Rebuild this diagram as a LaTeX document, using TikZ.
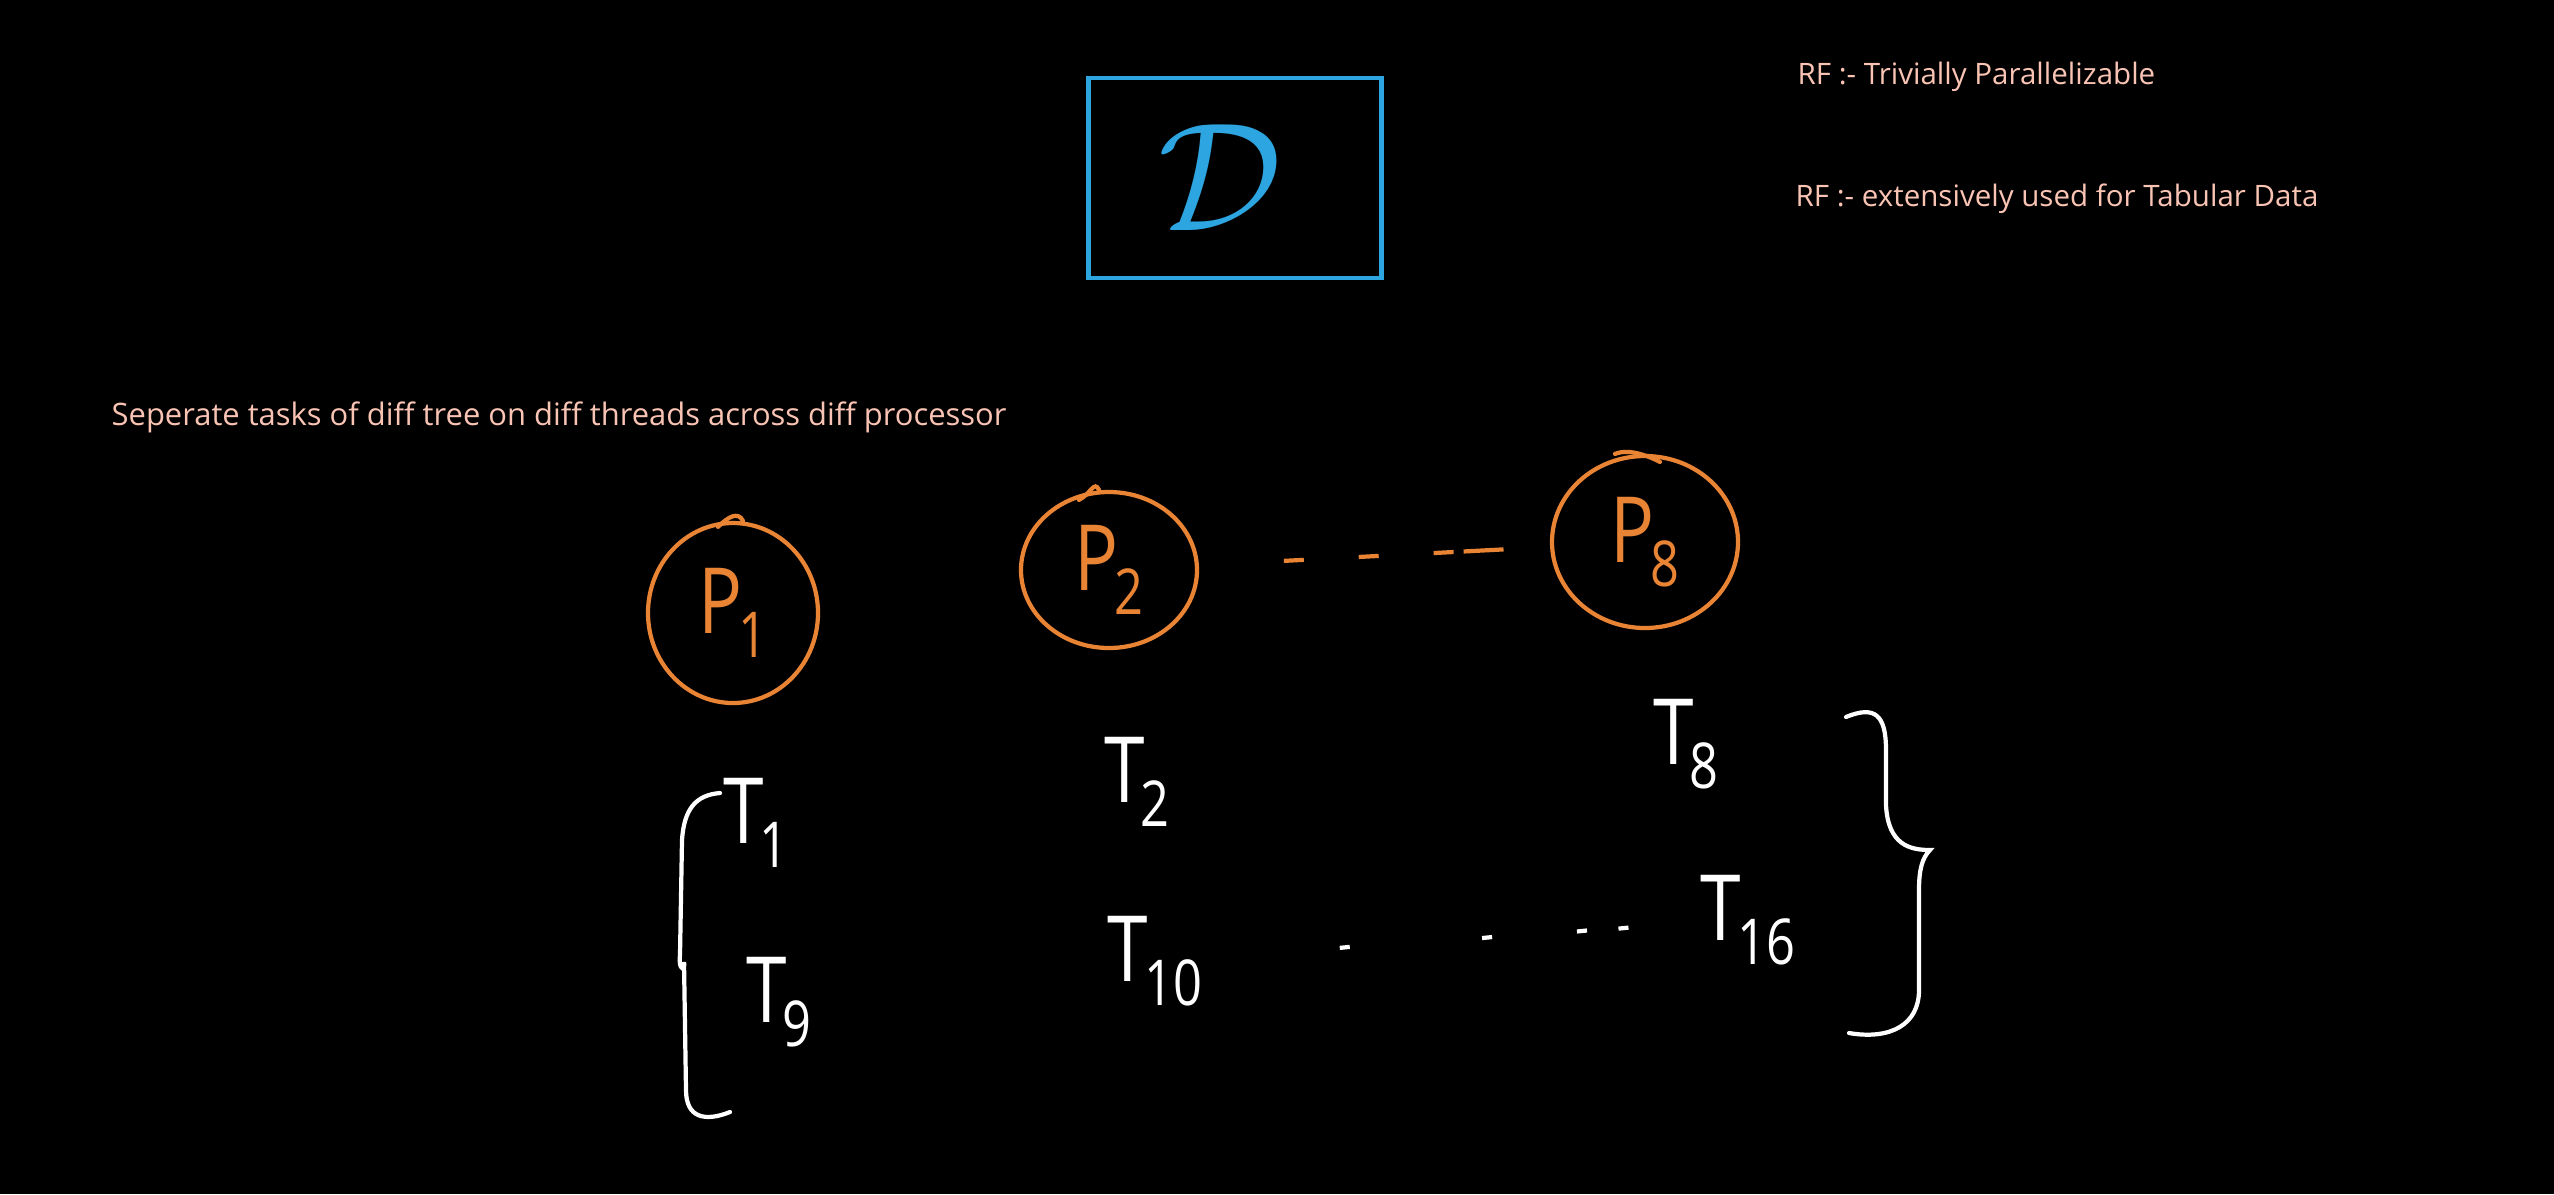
\documentclass[tikz,border=0pt]{standalone}
\usepackage{fix-cm}
\usepackage{fontspec}
\setmainfont{Open Sans}
\usetikzlibrary{positioning, shapes.geometric, calc}
\definecolor{penblue}{RGB}{45,165,225}
\definecolor{penorange}{RGB}{232,132,52}
\definecolor{penpink}{RGB}{250,196,180}
\newcommand{\subl}[2]{\scalebox{0.8}[1]{#1\kern-1.5pt\raisebox{-0.5ex}{\fontsize{18}{18}\selectfont #2}}}

\begin{document}
\begin{tikzpicture}[
    proc/.style={draw=penorange, ellipse, line width=1.2pt, inner sep=0pt, text=penorange, font=\fontsize{26}{30}\selectfont},
    task/.style={text=white, font=\fontsize{26}{30}\selectfont},
    note/.style={text=penpink, anchor=west, inner sep=0pt, font=\fontsize{8.4}{10}\selectfont},
    dbox/.style={draw=penblue, line width=1.2pt, minimum width=2.93cm, minimum height=2.0cm, text=penblue, font=\fontsize{44}{50}\selectfont},
    gap/.style={penorange, line width=1.2pt, dash pattern=on 0.2cm off 0.55cm on 0.2cm off 0.55cm on 0.2cm off 0.1cm on 0.4cm},
    tick/.style={white, line width=1.2pt},
    brc/.style={white, line width=1.2pt, line cap=round},
    hook/.style={penorange, line width=1.2pt, line cap=round},
]
% ---- Pozadina ----
\fill[black] (0,0) rectangle (25.54,-11.94);
\useasboundingbox (0,0) rectangle (25.54,-11.94);

% ---- Skup podataka ----
\node[dbox] (data) at (12.35,-1.78) {\hspace*{-3mm}$\mathcal{D}$};

% ---- Napomene ----
\node[note] (rf1) at (17.97,-0.77) {RF :- Trivially Parallelizable};
\node[note] (rf2) at (17.95,-1.99) {RF :- extensively used for Tabular Data};
\node[note, font=\fontsize{8.8}{10}\selectfont] (sep) at (1.11,-4.17) {Seperate tasks of diff tree on diff threads across diff processor};

% ---- Procesori ----
\node[proc, minimum width=1.70cm, minimum height=1.80cm] (p1) at (7.33,-6.13) {\subl{P}{1}};
\node[proc, minimum width=1.76cm, minimum height=1.56cm] (p2) at (11.09,-5.70) {\subl{P}{2}};
\node[proc, minimum width=1.86cm, minimum height=1.72cm] (p8) at (16.45,-5.42) {\subl{P}{8}};
\draw[hook] ([xshift=-1.5mm,yshift=-0.6mm]p1.north) .. controls ++(0.1,0.1) and ++(-0.05,0.1) .. ([xshift=1mm]p1.north);
\draw[hook] ([xshift=-3mm,yshift=-1mm]p2.north) .. controls ++(0.12,0.06) and ++(-0.05,0.1) .. ([xshift=-1mm]p2.north);
\draw[hook] ([xshift=-3mm]p8.north) .. controls ++(0.15,0.06) and ++(-0.1,0.05) .. ([xshift=1.5mm,yshift=-0.8mm]p8.north);

% ---- Zadaci ----
\node[task] (t1) at (7.56,-8.23) {\subl{T}{1}};
\node[task] (t2) at (11.37,-7.82) {\subl{T}{2}};
\node[task] (t8) at (16.86,-7.44) {\subl{T}{8}};
\node[task] (t9) at (7.79,-10.02) {\subl{T}{9}};
\node[task] (t10) at (11.55,-9.61) {\subl{T}{10}};
\node[task] (t16) at (17.48,-9.20) {\subl{T}{16}};

% ---- Tackice ----
\draw[gap, shorten <=0.85cm, shorten >=0.45cm] (p2) -- (p8);
\foreach \p in {0.32,0.56,0.72,0.79}
  \draw[tick] ($(t10)!\p!(t16)$) ++(-0.05,0) -- ++(0.1,0.01);

% ---- Zagrade ----
\draw[brc] (7.20,-7.93) .. controls (6.95,-7.95) and (6.84,-8.10) .. (6.82,-8.40)
  -- (6.80,-9.55) .. controls (6.78,-9.72) and (6.86,-9.70) .. (6.84,-9.62)
  -- (6.86,-10.90) .. controls (6.86,-11.18) and (7.05,-11.22) .. (7.30,-11.12);
\draw[brc] (18.46,-7.17) .. controls (18.75,-7.05) and (18.86,-7.15) .. (18.86,-7.50)
  -- (18.86,-8.05) .. controls (18.88,-8.45) and (19.10,-8.50) .. (19.30,-8.50)
  .. controls (19.22,-8.58) and (19.19,-8.70) .. (19.19,-8.90)
  -- (19.19,-9.90) .. controls (19.19,-10.25) and (18.90,-10.40) .. (18.49,-10.33);

\end{tikzpicture}
\end{document}
